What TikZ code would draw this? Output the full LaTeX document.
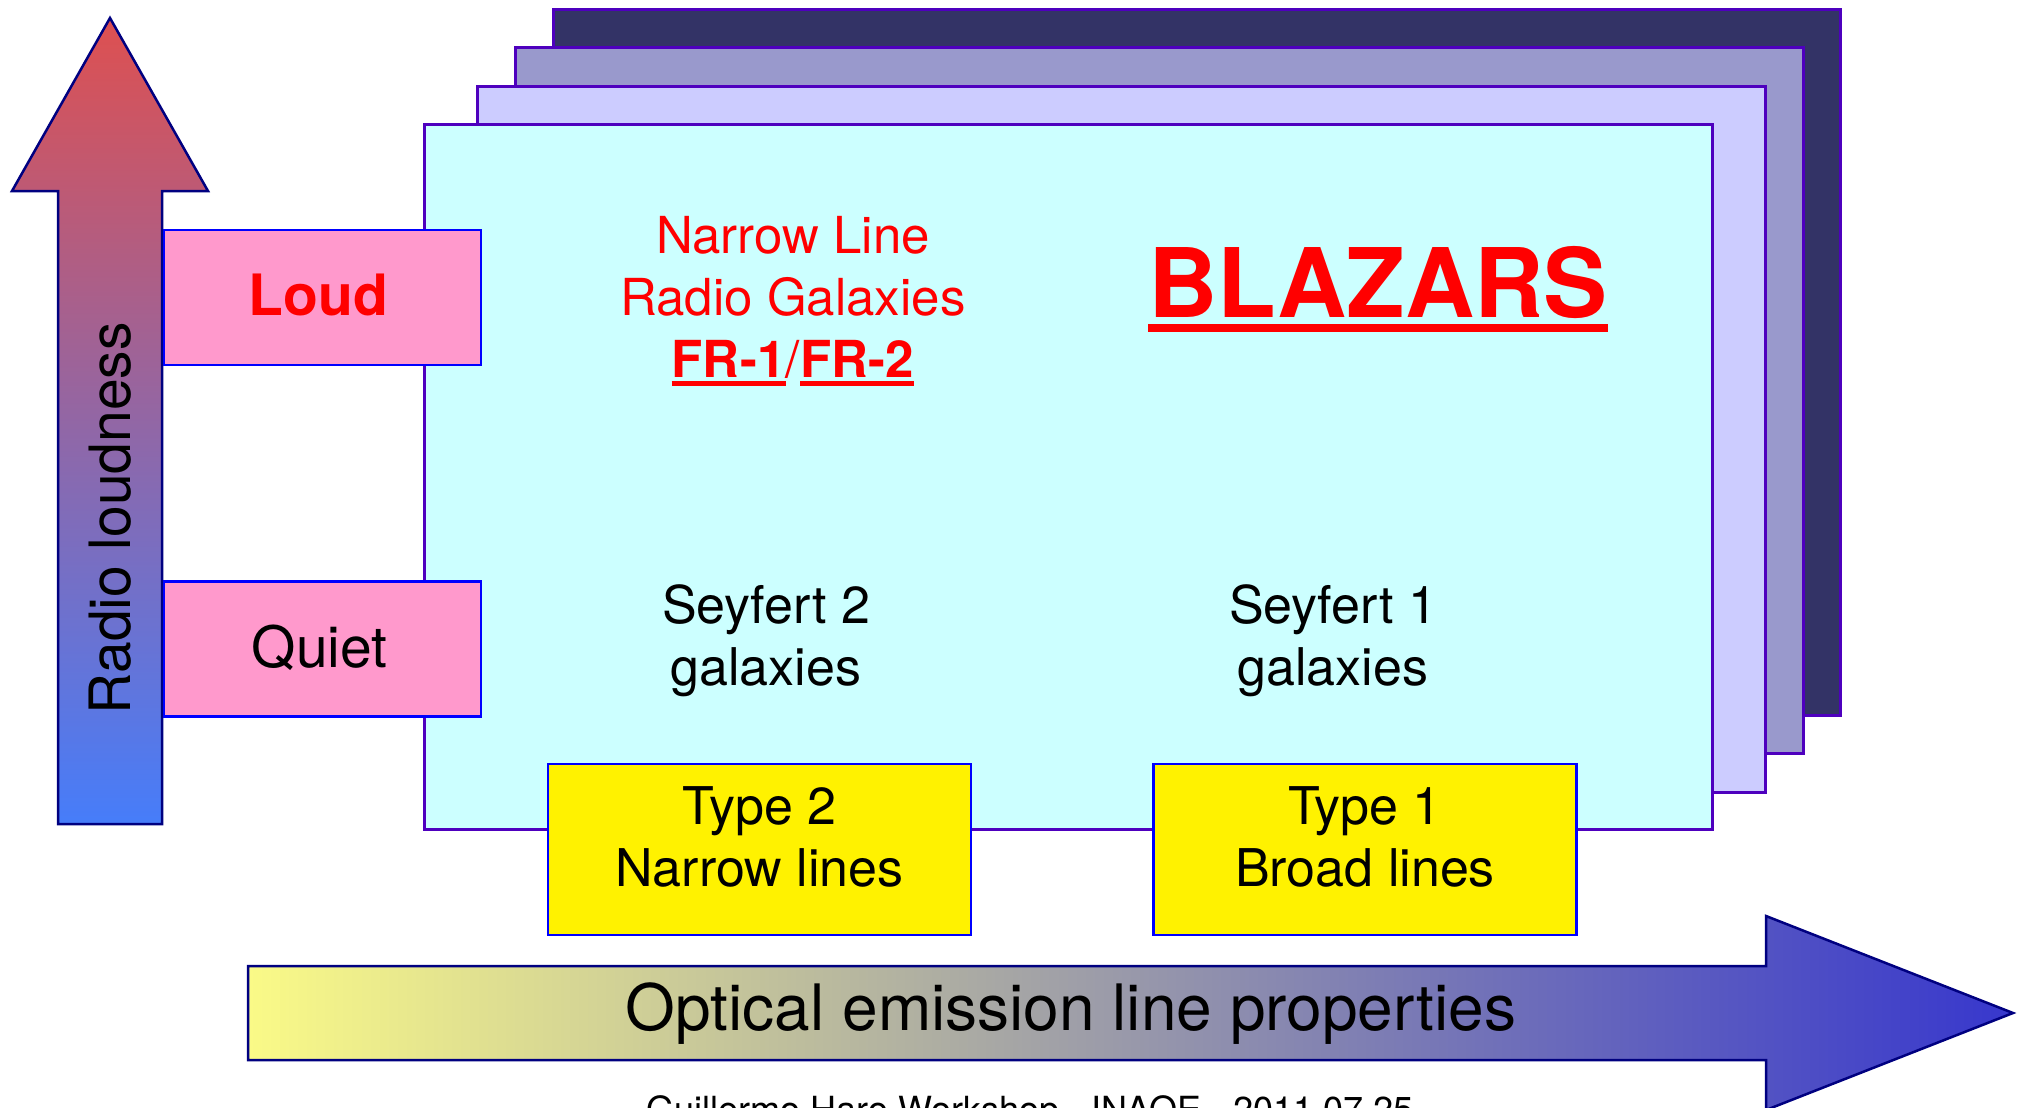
\documentclass[tikz,border=0pt]{standalone}
\usepackage{fontspec}
\setmainfont{TeX Gyre Heros}
\usetikzlibrary{positioning}

\definecolor{cardcyan}{HTML}{CCFFFF}
\definecolor{cardlav}{HTML}{CCCCFF}
\definecolor{cardgrey}{HTML}{9999CC}
\definecolor{carddark}{HTML}{333366}
\definecolor{cardedge}{HTML}{4E00BE}
\definecolor{levelpink}{HTML}{FF99CC}
\definecolor{arrowedge}{HTML}{000080}
\definecolor{loudtop}{RGB}{222,80,80}
\definecolor{quietbot}{RGB}{70,125,250}
\definecolor{optleft}{RGB}{250,250,135}
\definecolor{optright}{RGB}{55,55,205}

% thick underline: #1 gap below baseline, #2 rule thickness
\newcommand{\fatul}[3]{\leavevmode\setbox0\hbox{#3}%
  \rlap{\vrule width\wd0 height -#1 depth \dimexpr#1+#2\relax}\box0}

\begin{document}
\begin{tikzpicture}[x=1pt, y=-1pt, on grid,
    card/.style={draw=cardedge, line width=3pt},
    level/.style={draw=blue, line width=2.5pt, fill=levelpink,
      minimum width=317pt, minimum height=135pt,
      font=\fontsize{57}{68}\selectfont},
    linebox/.style={draw=blue, line width=2.5pt, fill=yellow,
      minimum width=423pt, minimum height=171pt, text depth=26pt,
      align=center, font=\fontsize{52}{62}\selectfont},
    galtext/.style={align=center, font=\fontsize{52}{62}\selectfont},
    fatarrow/.style={draw=arrowedge, line width=2.5pt, line join=miter}]

  \useasboundingbox (0,0) rectangle (2029,1108);

  % stack of cards, back to front
  \draw[card, fill=carddark] (553,10) rectangle (1840,715);
  \draw[card, fill=cardgrey] (515,48) rectangle (1803,753);
  \draw[card, fill=cardlav]  (477,86) rectangle (1765,792);
  \draw[card, fill=cardcyan] (424,124) rectangle (1712,829);

  % radio loudness axis
  \path[fatarrow, top color=loudtop, bottom color=quietbot]
    (58,824) -- (58,191) -- (12,191) -- (110,18) -- (208,191)
    -- (162,191) -- (162,824) -- cycle;
  \node[rotate=90, font=\fontsize{57}{68}\selectfont] (radio) at (110,518) {Radio loudness};

  \node[level, text=red, font=\fontsize{57}{68}\selectfont\bfseries, text depth=6pt] (loud) at (322.5,297.5) {\hspace*{-8pt}Loud};
  \node[level, text depth=6pt] (quiet) [below=351.5pt of loud] {\hspace*{-6pt}Quiet};

  % optical axis
  \path[fatarrow, left color=optleft, right color=optright]
    (248,966) -- (1766,966) -- (1766,916) -- (2013,1013) -- (1766,1110)
    -- (1766,1060) -- (248,1060) -- cycle;
  \node[font=\fontsize{64}{76}\selectfont] (optical) at (1071,1014) {Optical emission line properties};

  \node[linebox] (type2) at (759.5,849.5) {Type 2\\Narrow lines};
  \node[linebox] (type1) [right=605.5pt of type2] {Type 1\\Broad lines};

  % the four classes
  \node[galtext, text=red, font=\fontsize{51}{62}\selectfont] (nlrg) at (793,301)
    {Narrow Line\\Radio Galaxies\\\textbf{\fatul{4pt}{5pt}{FR-1}}/\textbf{\fatul{4pt}{5pt}{FR-2}}};
  \node[text=red, anchor=base, font=\fontsize{96}{110}\selectfont\bfseries] (blazars) at (1378,317) {\fatul{7pt}{8pt}{BLAZARS}};
  \node[galtext] (sy2) at (766,641) {Seyfert 2\\galaxies};
  \node[galtext] (sy1) [right=567pt of sy2] {Seyfert 1\\galaxies};

  \node[anchor=base, font=\fontsize{36}{43}\selectfont] (footer) at (1030,1122)
    {Guillermo Haro Workshop - INAOE - 2011.07.25};
\end{tikzpicture}
\end{document}
